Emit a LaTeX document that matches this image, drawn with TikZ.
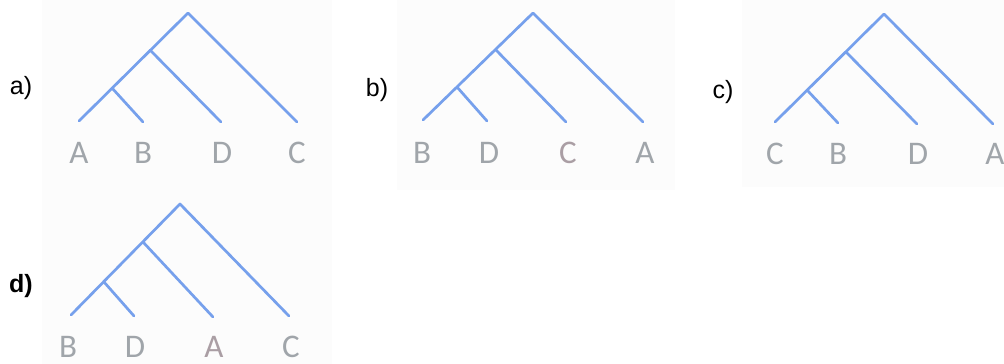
\documentclass[tikz,border=0pt]{standalone}
\usepackage{fontspec}
\setmainfont{Liberation Sans}
\newfontfamily\leaffont{Carlito}
\definecolor{branchblue}{RGB}{118,160,236}
\definecolor{leafgray}{RGB}{160,165,170}
\definecolor{leafred}{RGB}{170,158,164}
\begin{document}
\begin{tikzpicture}[x=1pt,y=-1pt,
    branch/.style={draw=branchblue, line width=2.7pt, line cap=round, line join=round},
    leaf/.style={text=leafgray, font=\leaffont\fontsize{33}{33}\selectfont, inner sep=0pt},
    leafr/.style={leaf, text=leafred},
    tag/.style={font=\fontsize{25}{25}\selectfont, inner sep=0pt},
    panel/.style={fill=black!1, draw=none}]
        \useasboundingbox (0,0) rectangle (1004,364);
        \fill[white] (0,0) rectangle (1004,364);
        \fill[panel] (42,0) rectangle (332,364);
        \fill[panel] (397,0) rectangle (675,190);
        \fill[panel] (742,0) rectangle (1004,187);
        
        % a)
        \node[tag] (a-tag) at (21,88) {a)};
        \coordinate (a-root) at (188,13);
        \coordinate (a-n1) at (150,50);
        \coordinate (a-n2) at (112,88);
        \coordinate (a-t1) at (79,121);
        \coordinate (a-t2) at (143,122);
        \coordinate (a-t3) at (221,122);
        \coordinate (a-t4) at (297,122);
        \node[leaf] (a-1) at (79,153) {A};
        \node[leaf] (a-2) at (143,153) {B};
        \node[leaf] (a-3) at (222,153) {D};
        \node[leaf] (a-4) at (297,153) {C};
        \draw[branch] (a-t1) -- (a-root) -- (a-t4);
        \draw[branch] (a-n1) -- (a-t3);
        \draw[branch] (a-n2) -- (a-t2);
        
        % b)
        \node[tag] (b-tag) at (377,90) {b)};
        \coordinate (b-root) at (533,13);
        \coordinate (b-n1) at (496,50);
        \coordinate (b-n2) at (457,87);
        \coordinate (b-t1) at (423,120);
        \coordinate (b-t2) at (487,121);
        \coordinate (b-t3) at (566,122);
        \coordinate (b-t4) at (643,122);
        \node[leaf] (b-1) at (422,153) {B};
        \node[leaf] (b-2) at (489,153) {D};
        \node[leafr] (b-3) at (568,153) {C};
        \node[leaf] (b-4) at (645,153) {A};
        \draw[branch] (b-t1) -- (b-root) -- (b-t4);
        \draw[branch] (b-n1) -- (b-t3);
        \draw[branch] (b-n2) -- (b-t2);
        
        % c)
        \node[tag] (c-tag) at (723,92) {c)};
        \coordinate (c-root) at (884,14);
        \coordinate (c-n1) at (846,52);
        \coordinate (c-n2) at (807,90);
        \coordinate (c-t1) at (775,122);
        \coordinate (c-t2) at (838,123);
        \coordinate (c-t3) at (917,124);
        \coordinate (c-t4) at (993,124);
        \node[leaf] (c-1) at (775,154) {C};
        \node[leaf] (c-2) at (838,154) {B};
        \node[leaf] (c-3) at (918,154) {D};
        \node[leaf] (c-4) at (995,154) {A};
        \draw[branch] (c-t1) -- (c-root) -- (c-t4);
        \draw[branch] (c-n1) -- (c-t3);
        \draw[branch] (c-n2) -- (c-t2);
        
        % d)
        \node[tag, font=\bfseries\fontsize{25}{25}\selectfont] (d-tag) at (21,286) {d)};
        \coordinate (d-root) at (180,204);
        \coordinate (d-n1) at (143,242);
        \coordinate (d-n2) at (104,282);
        \coordinate (d-t1) at (71,315);
        \coordinate (d-t2) at (134,316);
        \coordinate (d-t3) at (213,317);
        \coordinate (d-t4) at (289,316);
        \node[leaf] (d-1) at (68,347) {B};
        \node[leaf] (d-2) at (135,347) {D};
        \node[leafr] (d-3) at (214,347) {A};
        \node[leaf] (d-4) at (291,347) {C};
        \draw[branch] (d-t1) -- (d-root) -- (d-t4);
        \draw[branch] (d-n1) -- (d-t3);
        \draw[branch] (d-n2) -- (d-t2);
    \end{tikzpicture}
\end{document}
